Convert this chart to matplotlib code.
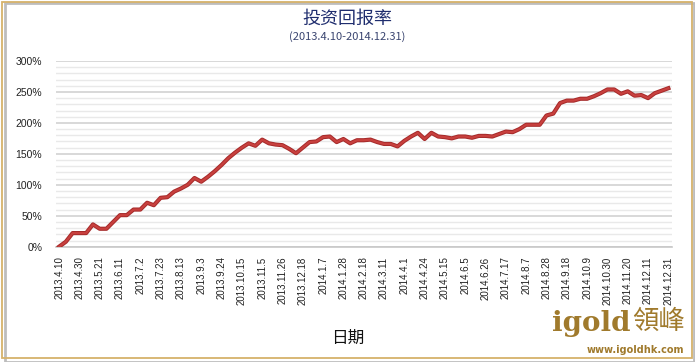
import numpy as np
import matplotlib
matplotlib.use('Agg')
import matplotlib.pyplot as plt
from matplotlib.patches import Rectangle
from matplotlib.ticker import MultipleLocator, FuncFormatter

plt.rcParams['font.family'] = ['Liberation Sans', 'Noto Sans CJK SC', 'DejaVu Sans']

# weekly cumulative return (%)
returns = [0, 8, 22, 22, 22, 36, 29, 29, 40, 51,
           51, 60, 60, 71, 67, 79, 80, 89, 94, 100,
           111, 105, 113, 122, 132, 143, 152, 160, 167, 163,
           173, 167, 165, 164, 158, 151, 160, 169, 170, 177,
           178, 169, 174, 167, 172, 172, 173, 169, 166, 166,
           162, 171, 178, 184, 174, 184, 178, 177, 175, 178,
           178, 176, 179, 179, 178, 182, 186, 185, 190, 197,
           197, 197, 212, 215, 232, 236, 236, 239, 239, 243,
           248, 254, 254, 247, 251, 244, 245, 240, 248, 252,
           256]

date_labels = ['2013.4.10', '2013.4.30', '2013.5.21', '2013.6.11', '2013.7.2',
               '2013.7.23', '2013.8.13', '2013.9.3', '2013.9.24', '2013.10.15',
               '2013.11.5', '2013.11.26', '2013.12.18', '2014.1.7', '2014.1.28',
               '2014.2.18', '2014.3.11', '2014.4.1', '2014.4.24', '2014.5.15',
               '2014.6.5', '2014.6.26', '2014.7.17', '2014.8.7', '2014.8.28',
               '2014.9.18', '2014.10.9', '2014.10.30', '2014.11.20', '2014.12.11',
               '2014.12.31']
label_step = 3

fig = plt.figure(figsize=(6.95, 3.62), dpi=100)
fig.patch.set_facecolor('white')
ax = fig.add_axes([0.0806, 0.3185, 0.8864, 0.513])

x = np.arange(len(returns))
ax.plot(x, returns, color='#a52a2a', lw=3.0, solid_joinstyle='round', zorder=3)
ax.plot(x, returns, color='#c8403e', lw=1.6, solid_joinstyle='round', zorder=4)

ax.set_xlim(-0.45, len(returns) - 1 + 0.55)
ax.set_ylim(0, 300)
ax.yaxis.set_major_locator(MultipleLocator(50))
ax.yaxis.set_minor_locator(MultipleLocator(10))
ax.yaxis.set_major_formatter(FuncFormatter(lambda v, p: '%d%%' % v))
ax.grid(which='major', axis='y', color='#d2d2d2', lw=1.2)
ax.grid(which='minor', axis='y', color='#e9e9e9', lw=1.0)
ax.set_axisbelow(True)

ax.set_xticks(x[::label_step])
ax.set_xticklabels(date_labels, rotation=90, fontsize=7, color='#222222')
ax.tick_params(axis='x', length=0, pad=7)
ax.tick_params(axis='y', which='both', length=0, pad=10, labelsize=7.5, labelcolor='#222222')

for s in ['top', 'right', 'left']:
    ax.spines[s].set_visible(False)
ax.spines['bottom'].set_color('#c8c8c8')
ax.spines['bottom'].set_linewidth(1.2)

fig.text(0.5, 0.948, '投资回报率', ha='center', va='center', fontsize=13,
         color='#1f2d6e', family=['Noto Sans CJK SC', 'DejaVu Sans'])
fig.text(0.5, 0.9, '(2013.4.10-2014.12.31)', ha='center', va='center', fontsize=8,
         color='#3a4570', family=['Noto Sans CJK SC', 'DejaVu Sans'])
fig.text(0.5, 0.066, '日期', ha='center', va='center', fontsize=12,
         color='#111111', family=['Noto Sans CJK SC', 'DejaVu Sans'])

# logo
gold = '#a07a2c'
fig.text(0.851, 0.085, 'igold', ha='center', va='baseline', fontsize=20,
         fontweight='bold', color=gold, family='DejaVu Serif')
fig.text(0.948, 0.09, '領峰', ha='center', va='baseline', fontsize=19,
         color=gold, family=['Noto Sans CJK TC', 'DejaVu Sans'])
fig.text(0.914, 0.025, 'www.igoldhk.com', ha='center', va='baseline', fontsize=7,
         fontweight='bold', color=gold, family='DejaVu Sans')

# frame with shadow
fig.patches.append(Rectangle((0.007, 0.0), 0.992, 0.993, transform=fig.transFigure,
                             fill=False, edgecolor='#bdbdbd', lw=2.0, zorder=0))
fig.patches.append(Rectangle((0.003, 0.012), 0.992, 0.983, transform=fig.transFigure,
                             fill=False, edgecolor='#d6b26a', lw=1.3, zorder=1))

fig.savefig('out.png', dpi=100)
